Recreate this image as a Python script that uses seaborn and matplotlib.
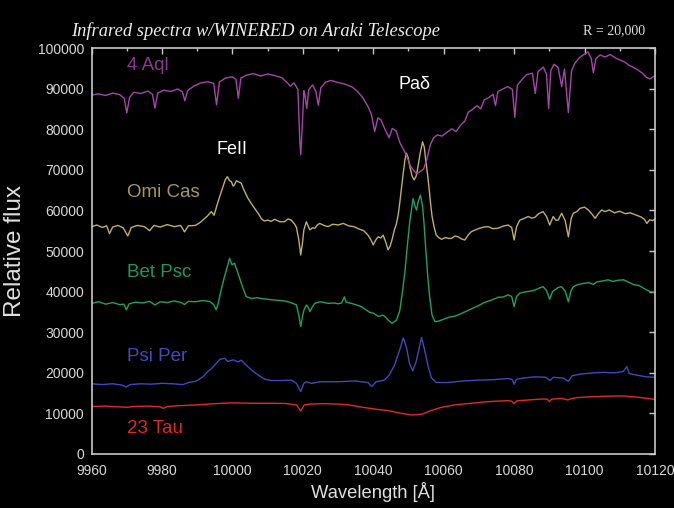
import matplotlib
matplotlib.use("Agg")
import matplotlib.pyplot as plt
import pandas as pd
import seaborn as sns
from matplotlib.ticker import MultipleLocator

# ---------------- data (wavelength [A], relative flux) ----------------
aql = [(9960.0, 88400), (9962.0, 88700), (9964.0, 88300), (9966.0, 88900), (9968.0, 88500),
       (9969.3, 87600), (9970.0, 84000), (9970.8, 87800), (9972.0, 89100), (9974.0, 88800),
       (9976.0, 89400), (9977.3, 88600), (9978.0, 85200), (9978.8, 88900), (9980.5, 89600),
       (9982.5, 89300), (9984.5, 89900), (9985.8, 89200), (9986.5, 87000), (9987.3, 89500),
       (9989.0, 90600), (9991.0, 91400), (9993.0, 91700), (9994.7, 91300), (9995.5, 86000),
       (9996.3, 91600), (9998.0, 92600), (10000.0, 92900), (10001.0, 92300), (10001.7, 87600),
       (10002.4, 92600), (10004.0, 93300), (10006.0, 93700), (10008.0, 93100), (10010.0, 93600),
       (10012.0, 93200), (10014.0, 92700), (10015.5, 91500), (10016.5, 90600), (10017.5, 91400),
       (10018.6, 89800), (10019.1, 78000), (10019.4, 73700), (10019.8, 80000), (10020.3, 89500),
       (10020.6, 88500), (10021.1, 85100), (10021.7, 89800), (10022.8, 90900), (10023.7, 89300),
       (10024.4, 85900), (10025.1, 90200), (10026.5, 91600), (10028.0, 92000), (10030.0, 91500),
       (10032.0, 91100), (10034.0, 90400), (10035.5, 89300), (10037.0, 87800), (10038.5, 85600),
       (10039.5, 83600), (10040.4, 79400), (10041.3, 82800), (10042.2, 82300), (10043.2, 80200),
       (10044.5, 77900), (10045.4, 80200), (10046.5, 79600), (10047.5, 76800), (10048.6, 75000),
       (10049.5, 73400), (10050.5, 71000), (10051.5, 69800), (10052.4, 69000), (10053.4, 69600),
       (10054.3, 70200), (10055.2, 72500), (10056.2, 76200), (10057.2, 77900), (10058.2, 78600),
       (10059.5, 78300), (10060.9, 79200), (10062.3, 80100), (10063.5, 79400), (10064.8, 81000),
       (10066.0, 82000), (10067.0, 84200), (10068.2, 84900), (10069.5, 85800), (10070.5, 85000),
       (10071.5, 87200), (10072.8, 87800), (10074.0, 88600), (10074.7, 85800), (10075.4, 89300),
       (10076.8, 89900), (10078.2, 90500), (10079.5, 89800), (10080.2, 82900), (10080.9, 90800),
       (10082.0, 92000), (10083.5, 93400), (10085.2, 93800), (10086.0, 88800), (10086.8, 94200),
       (10088.3, 95300), (10089.2, 93500), (10089.8, 85100), (10090.4, 94400), (10091.3, 96000),
       (10092.5, 95200), (10093.5, 90500), (10094.3, 94800), (10095.4, 84100), (10096.3, 94300),
       (10097.2, 96200), (10098.5, 97600), (10099.8, 98400), (10101.0, 99000), (10101.9, 97400),
       (10102.5, 93900), (10103.2, 97300), (10104.4, 98300), (10105.8, 97800), (10107.3, 98400),
       (10108.7, 97600), (10110.1, 97000), (10111.5, 96500), (10112.7, 95700), (10113.9, 95200),
       (10115.2, 94600), (10116.4, 93800), (10117.5, 92800), (10118.6, 92400), (10120.0, 93200)]

omi_cas = [(9960.0, 56000), (9961.5, 56400), (9963.0, 55800), (9964.3, 56200), (9965.1, 54300),
           (9966.0, 55900), (9967.5, 56300), (9969.0, 55700), (9970.3, 53700), (9971.3, 55800),
           (9973.0, 56300), (9975.0, 56000), (9976.5, 55000), (9977.7, 56300), (9979.5, 55900),
           (9981.5, 56500), (9983.5, 56000), (9985.3, 56300), (9986.4, 54700), (9987.5, 56200),
           (9989.5, 56300), (9990.8, 57000), (9991.6, 57600), (9993.0, 58700), (9994.0, 59700),
           (9994.8, 58800), (9995.9, 62100), (9997.3, 65800), (9998.0, 67600), (9998.6, 68300),
           (9999.2, 67300), (9999.7, 67100), (10000.2, 66000), (10000.6, 66300), (10001.1, 67300),
           (10001.6, 67100), (10002.5, 66700), (10003.3, 65000), (10004.4, 63000), (10005.3, 61800),
           (10006.3, 60500), (10007.3, 59300), (10008.2, 58000), (10009.0, 57400), (10010.1, 57600),
           (10011.0, 57300), (10012.0, 57800), (10013.5, 57200), (10014.8, 57200), (10015.8, 57900),
           (10016.7, 57600), (10017.6, 56700), (10018.2, 55800), (10018.9, 52500), (10019.4, 49000),
           (10019.9, 52000), (10020.3, 55200), (10021.0, 57200), (10021.5, 56200), (10022.0, 55200),
           (10022.7, 55700), (10023.4, 55600), (10024.1, 56400), (10024.8, 56800), (10026.0, 56300),
           (10027.2, 56000), (10028.5, 56600), (10030.0, 56400), (10031.5, 56800), (10033.0, 56200),
           (10034.5, 56000), (10036.0, 55400), (10037.3, 55000), (10038.5, 53900), (10039.3, 52800),
           (10040.0, 51500), (10040.7, 52700), (10041.4, 53500), (10042.1, 53200), (10042.8, 53900),
           (10043.5, 52300), (10044.2, 50300), (10044.8, 51200), (10045.3, 52700), (10046.0, 55200),
           (10046.6, 56800), (10047.1, 59000), (10047.5, 61700), (10048.0, 65500), (10048.5, 69100),
           (10049.0, 72500), (10049.4, 74100), (10049.9, 73000), (10050.4, 70800), (10051.0, 68500),
           (10051.6, 67500), (10052.2, 68500), (10052.7, 70800), (10053.3, 74000), (10054.0, 76900),
           (10054.5, 75500), (10054.9, 72400), (10055.4, 69000), (10055.8, 65800), (10056.3, 61500),
           (10056.7, 58500), (10057.3, 55800), (10057.9, 53900), (10058.6, 53300), (10059.4, 52900),
           (10060.5, 53300), (10061.4, 53100), (10062.2, 53100), (10063.2, 53700), (10064.1, 53500),
           (10065.0, 53000), (10066.0, 52700), (10067.0, 54000), (10067.9, 54800), (10069.0, 55200),
           (10070.2, 55600), (10071.4, 55900), (10072.6, 56000), (10074.0, 55500), (10075.4, 55600),
           (10076.8, 56100), (10078.3, 56400), (10079.3, 55800), (10080.0, 52700), (10080.7, 56000),
           (10081.6, 57600), (10082.8, 58000), (10084.0, 58500), (10085.0, 58100), (10085.9, 58300),
           (10087.0, 59200), (10088.2, 59700), (10089.2, 58500), (10090.1, 56400), (10091.1, 58500),
           (10091.8, 57600), (10092.5, 57600), (10093.5, 59300), (10094.5, 57500), (10095.4, 53500),
           (10096.2, 58000), (10096.8, 59300), (10097.8, 59700), (10098.7, 60500), (10100.0, 60800),
           (10101.1, 60100), (10102.0, 59200), (10103.0, 58050), (10104.0, 59300), (10104.9, 60100),
           (10105.8, 59700), (10107.0, 60100), (10108.5, 59400), (10110.0, 59800), (10111.5, 59200),
           (10113.0, 59400), (10114.5, 58900), (10116.0, 58400), (10117.0, 57800), (10117.7, 56800),
           (10118.5, 57700), (10119.3, 57500), (10120.0, 57900)]

bet_psc = [(9960.0, 37100), (9962.0, 37500), (9964.0, 36900), (9966.0, 37300), (9968.0, 36800),
           (9969.2, 36900), (9969.9, 35500), (9970.7, 37000), (9972.5, 37400), (9974.5, 37200),
           (9976.5, 37600), (9978.0, 36700), (9979.5, 37500), (9981.5, 37300), (9983.5, 37700),
           (9985.5, 37300), (9986.4, 36800), (9987.5, 37600), (9989.5, 37500), (9991.5, 37800),
           (9993.5, 37600), (9994.7, 36800), (9995.4, 35500), (9996.0, 37200), (9996.8, 40400),
           (9997.7, 43500), (9998.3, 45300), (9999.2, 48200), (9999.9, 46600), (10000.6, 47000),
           (10001.6, 44500), (10002.7, 41600), (10003.9, 38800), (10005.3, 38300), (10007.0, 38500),
           (10008.2, 38300), (10010.0, 38100), (10012.0, 37900), (10014.0, 37800), (10015.8, 37500),
           (10017.2, 37100), (10018.2, 36700), (10018.9, 34000), (10019.4, 31400), (10019.9, 33800),
           (10020.3, 35400), (10021.0, 36700), (10021.5, 36200), (10022.0, 35100), (10022.7, 36200),
           (10023.4, 37100), (10025.0, 37500), (10027.2, 37100), (10029.0, 37200), (10030.0, 37000),
           (10031.0, 37200), (10031.8, 38700), (10032.3, 37400), (10033.8, 37100), (10035.3, 36700),
           (10036.6, 36300), (10038.0, 35500), (10039.0, 34900), (10040.0, 34700), (10041.4, 33900),
           (10042.8, 34200), (10043.5, 33700), (10044.2, 33000), (10045.3, 32200), (10046.0, 32600),
           (10046.6, 33000), (10047.5, 35200), (10048.3, 40000), (10049.0, 45000), (10049.7, 51500),
           (10050.4, 57500), (10051.3, 62900), (10051.9, 60900), (10052.3, 60100), (10052.8, 62300),
           (10053.4, 63800), (10054.0, 61000), (10054.4, 57000), (10054.9, 50500), (10055.5, 43500),
           (10056.0, 38800), (10056.7, 34200), (10057.5, 32600), (10058.5, 32700), (10060.0, 33200),
           (10061.5, 33700), (10063.0, 33900), (10064.5, 34400), (10066.0, 35000), (10068.0, 35800),
           (10070.0, 36600), (10071.5, 37300), (10073.5, 37900), (10075.5, 38600), (10077.0, 38700),
           (10078.3, 39200), (10079.3, 38800), (10080.0, 36300), (10080.7, 38800), (10081.6, 39600),
           (10083.0, 39900), (10084.5, 40100), (10086.0, 40400), (10087.2, 40900), (10088.2, 41200),
           (10089.2, 40300), (10090.1, 38100), (10090.9, 40000), (10091.5, 40400), (10092.5, 41000),
           (10093.5, 41200), (10094.5, 40100), (10095.4, 37500), (10096.2, 40300), (10096.8, 41200),
           (10098.0, 41700), (10099.5, 42000), (10101.1, 42200), (10102.5, 41800), (10103.5, 42400),
           (10105.0, 42600), (10106.7, 42900), (10108.0, 42500), (10109.5, 42800), (10111.1, 42900),
           (10112.5, 42300), (10114.0, 41700), (10115.5, 41500), (10117.0, 40700), (10118.6, 40000),
           (10120.0, 39800)]

psi_per = [(9960.0, 17300), (9963.0, 17100), (9966.0, 17300), (9968.5, 17000), (9969.9, 16500),
           (9971.0, 17100), (9974.0, 17300), (9977.0, 17200), (9980.0, 17400), (9983.0, 17300),
           (9986.0, 17100), (9987.5, 17600), (9989.5, 17900), (9990.2, 18200), (9991.6, 19000),
           (9993.0, 20300), (9994.0, 21000), (9995.0, 21900), (9996.4, 23300), (9997.8, 23600),
           (9998.7, 22800), (10000.2, 23200), (10001.6, 22700), (10002.5, 23100), (10003.9, 21900),
           (10005.4, 20700), (10007.3, 19500), (10009.2, 18400), (10011.1, 18100), (10014.0, 18100),
           (10016.7, 18200), (10018.2, 17400), (10019.4, 15400), (10020.3, 17400), (10021.0, 17800),
           (10022.4, 17400), (10025.0, 17800), (10030.0, 17800), (10034.7, 18000), (10038.5, 17600),
           (10039.6, 16600), (10040.8, 17800), (10043.1, 18200), (10044.5, 19400), (10046.0, 21800),
           (10047.5, 25600), (10048.5, 28600), (10049.4, 26400), (10050.3, 22300), (10051.2, 20500),
           (10052.2, 22800), (10053.7, 28700), (10054.6, 25600), (10055.6, 21500), (10056.5, 18800),
           (10057.9, 17600), (10061.0, 17600), (10065.7, 18000), (10070.0, 18200), (10074.0, 18300),
           (10078.3, 18600), (10079.5, 18300), (10080.0, 17200), (10080.7, 18400), (10082.5, 18700),
           (10085.9, 19000), (10089.0, 18900), (10090.1, 18100), (10091.2, 18900), (10094.0, 18700),
           (10095.4, 17900), (10096.5, 19300), (10099.0, 19700), (10102.5, 20000), (10105.5, 20100),
           (10108.5, 20000), (10111.0, 20300), (10112.0, 21500), (10112.7, 19800), (10115.0, 19400),
           (10117.5, 19000), (10120.0, 18900)]

tau23 = [(9960.0, 11700), (9964.0, 11800), (9968.0, 11600), (9970.0, 11500), (9972.0, 11700),
         (9976.0, 11800), (9979.5, 11600), (9980.4, 11250), (9981.5, 11700), (9985.0, 11900),
         (9990.0, 12100), (9995.0, 12400), (10000.0, 12600), (10005.0, 12500), (10010.0, 12500),
         (10015.0, 12450), (10018.2, 12100), (10019.4, 10600), (10020.4, 12100), (10022.0, 12300),
         (10026.0, 12400), (10030.0, 12300), (10033.0, 12100), (10037.0, 11500), (10041.0, 11000),
         (10044.2, 10700), (10048.0, 10000), (10051.2, 9600), (10054.0, 9850), (10056.7, 10800),
         (10059.4, 11500), (10063.2, 12100), (10067.9, 12500), (10072.6, 12900), (10078.3, 13150),
         (10079.3, 13000), (10080.0, 12400), (10080.8, 13100), (10084.0, 13300), (10087.9, 13550),
         (10089.4, 13500), (10090.0, 12900), (10090.6, 13500), (10093.5, 13700), (10095.3, 13300),
         (10096.0, 13600), (10098.0, 13900), (10102.0, 14100), (10106.7, 14250), (10111.0, 14300),
         (10115.0, 14000), (10119.6, 13500), (10120.0, 13450)]

star_names = ["23 Tau", "Psi Per", "Bet Psc", "Omi Cas", "4 Aql"]
line_colors = ["#e02a2a", "#4646be", "#22a064", "#c0b062", "#a646aa"]
label_colors = ["#dc2a2a", "#4848b8", "#20985c", "#a49a58", "#8c3a8e"]
label_pos = [(9970.1, 6400), (9970.1, 23900), (9970.1, 44600), (9970.1, 64500), (9970.1, 95600)]

x_ticks = list(range(9960, 10121, 20))
y_ticks = list(range(0, 100001, 10000))

# ---------------- style ----------------
sns.set_style("dark", rc={"axes.facecolor": "black", "figure.facecolor": "black",
                          "axes.edgecolor": "#c8c8c8", "grid.color": "black"})
plt.rcParams["font.family"] = ["Liberation Sans", "DejaVu Sans"]

fig = plt.figure(figsize=(6.74, 5.08), dpi=100, facecolor="black")
ax = fig.add_axes([0.1358, 0.1063, 0.8360, 0.7992])
ax.set_facecolor("black")
ax.grid(False)

spectra = [tau23, psi_per, bet_psc, omi_cas, aql]
for name, data, lc in zip(star_names, spectra, line_colors):
    df = pd.DataFrame(data, columns=["wavelength", "flux"])
    sns.lineplot(data=df, x="wavelength", y="flux", ax=ax, color=lc, lw=1.0,
                 estimator=None, sort=False)

for name, (lx, ly), c in zip(star_names, label_pos, label_colors):
    ax.text(lx, ly, name, color=c, fontsize=13.5, ha="left", va="center")

ax.text(9999.9, 74900, "FeII", color="white", fontsize=13, ha="center", va="center")
ax.text(10051.6, 91000, "Paδ", color="white", fontsize=13, ha="center", va="center")

ax.set_xlim(9960, 10120)
ax.set_ylim(0, 100000)
ax.set_xticks(x_ticks)
ax.set_yticks(y_ticks)
ax.xaxis.set_minor_locator(MultipleLocator(10))
ax.tick_params(axis="both", which="both", direction="in", top=True, right=True,
               colors="#c8c8c8", labelcolor="#d8d8d8", labelsize=10)
ax.tick_params(axis="both", which="major", length=4.5, width=1.0)
ax.tick_params(axis="both", which="minor", length=2.5, width=1.0)
ax.tick_params(axis="x", which="major", pad=7)
ax.tick_params(axis="y", which="major", pad=5.5)
for s in ax.spines.values():
    s.set_color("#c8c8c8")
    s.set_linewidth(1.2)

ax.set_xlabel("Wavelength [Å]", color="#e0e0e0", fontsize=13.2, labelpad=3)
ax.set_ylabel("Relative flux", color="#e0e0e0", fontsize=17.5, labelpad=8)

fig.text(0.105, 0.939, "Infrared spectra w/WINERED on Araki Telescope", color="#ececec",
         fontsize=13.3, fontstyle="italic", family=["Liberation Serif", "DejaVu Serif"],
         ha="left", va="center")
fig.text(0.957, 0.939, "R = 20,000", color="#e0e0e0", fontsize=10,
         family=["Liberation Serif", "DejaVu Serif"], ha="right", va="center")

fig.savefig("out.png", dpi=100, facecolor="black")
